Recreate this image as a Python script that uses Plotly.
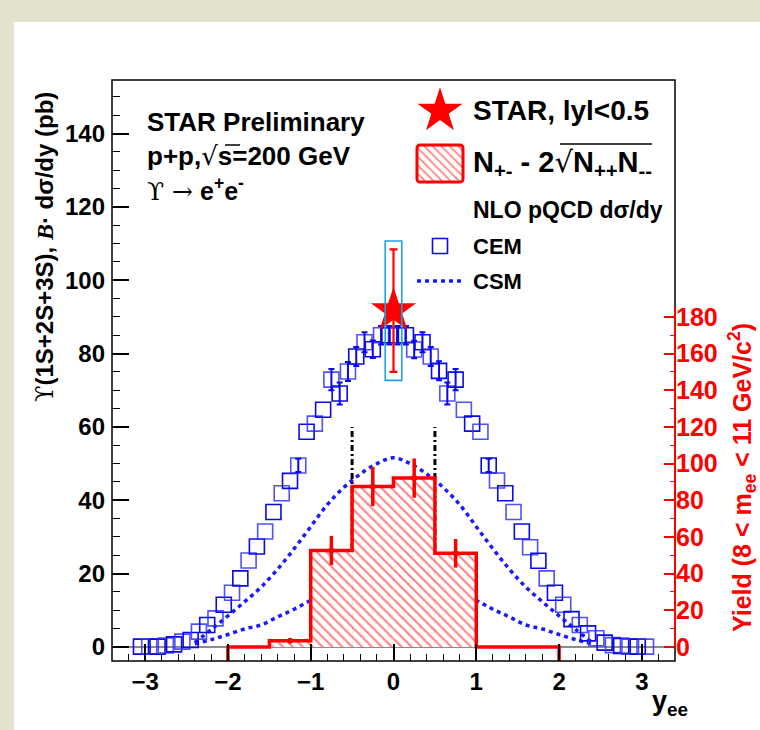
import plotly.graph_objects as go

# ---------------- data ----------------
cem_x = [-3.05, -2.95, -2.85, -2.75, -2.65, -2.55, -2.45, -2.35, -2.25, -2.15,
         -2.05, -1.95, -1.85, -1.75, -1.65, -1.55, -1.45, -1.35, -1.25, -1.15,
         -1.05, -0.95, -0.85, -0.75, -0.65, -0.55, -0.45, -0.35, -0.25, -0.15,
         -0.05, 0.05, 0.15, 0.25, 0.35, 0.45, 0.55, 0.65, 0.75, 0.85,
         0.95, 1.05, 1.15, 1.25, 1.35, 1.45, 1.55, 1.65, 1.75, 1.85,
         1.95, 2.05, 2.15, 2.25, 2.35, 2.45, 2.55, 2.65, 2.75, 2.85,
         2.95, 3.05]
cem_y = [0.1, 0.1, 0.1, 0.4, 0.7, 1.45, 1.9, 4.2, 6.0, 7.8,
         11.5, 14.8, 18.7, 23.6, 27.4, 31.5, 36.8, 41.9, 45.3, 49.5,
         58.7, 60.9, 64.7, 72.9, 69.1, 75.1, 79.2, 83.1, 81.2, 85.0,
         85.0, 85.0, 85.0, 81.1, 83.1, 79.2, 75.3, 69.1, 72.9, 64.7,
         60.9, 58.7, 49.5, 45.4, 41.9, 36.8, 31.5, 27.2, 23.5, 18.7,
         14.8, 11.5, 7.6, 6.0, 3.7, 2.4, 1.2, 0.5, 0.3, 0.1,
         0.1, 0.1]
cem_err = [0, 0, 0, 0, 0, 0, 0, 0, 0, 0,
           0, 0, 0, 0, 0, 0, 0, 0, 0, 1.8,
           0, 0, 0, 2.9, 3.0, 2.6, 2.6, 2.7, 2.4, 2.5,
           2.5, 2.5, 2.5, 2.4, 2.7, 2.6, 2.6, 3.0, 2.9, 0,
           0, 0, 1.8, 0, 0, 0, 0, 0, 0, 0,
           0, 0, 0, 0, 0, 0, 0, 0, 0, 0,
           0, 0]

csm_x = [-2.4, -2.2, -2.0, -1.8, -1.6, -1.4, -1.2, -1.0, -0.8, -0.6, -0.4, -0.2, 0.0,
         0.2, 0.4, 0.6, 0.8, 1.0, 1.2, 1.4, 1.6, 1.8, 2.0, 2.2, 2.4]
csm_hi = [1.2, 4.8, 8.5, 12.3, 16.3, 21.2, 26.8, 32.8, 38.8, 43.5, 47.2, 50.0, 51.6,
          50.0, 47.2, 43.5, 38.8, 32.8, 26.8, 21.2, 16.3, 12.3, 8.5, 4.8, 1.2]
csm_lo = [0.9, 2.0, 3.4, 4.9, 6.0, 8.2, 10.3, 12.7, 14.7, 16.4, 17.7, 18.2, 18.3,
          18.2, 17.7, 16.4, 14.7, 12.7, 10.3, 8.2, 6.0, 4.9, 3.4, 2.0, 0.9]

hist_edges = [-2.0, -1.5, -1.0, -0.5, 0.0, 0.5, 1.0, 1.5, 2.0]
hist_vals = [0.0, 3.4, 52.6, 87.5, 92.1, 51.1, 0.0, 0.0]
hist_err = [0.0, 1.0, 8.0, 10.7, 10.7, 7.8, 0.0, 0.0]

star_x = [0.0]
star_y = [91.7]
star_stat = [16.7]
star_sys = [19.0]

cut_x = [-0.5, 0.5]
cut_top = 60.0

x_range = [-3.4, 3.4]
y_range = [-3.82, 154.6]
y2_range = [2 * y_range[0], 2 * y_range[1]]

RED = "#ff0000"
BLUE = "#1a1aff"
FONT = "Liberation Sans"

# pixel helpers for decorations (plot area 112..675 x 80..661)
L, R, T, B = 112, 675, 80, 661
def PX(x):
    return (x - L) / (R - L)
def PY(y):
    return (B - y) / (B - T)

fig = go.Figure()

# histogram (hatched)
centers = [(hist_edges[i] + hist_edges[i + 1]) / 2 for i in range(len(hist_vals))]
widths = [hist_edges[i + 1] - hist_edges[i] for i in range(len(hist_vals))]
fig.add_trace(go.Bar(
    x=centers, y=hist_vals, width=widths, yaxis="y2",
    marker=dict(color="white", line=dict(width=0),
                pattern=dict(shape="\\", fgcolor=RED, bgcolor="white", size=7, solidity=0.28)),
    showlegend=False, hoverinfo="skip"))
step_x = [hist_edges[0]] + hist_edges[:-1] + [hist_edges[-1]]
step_y = [y2_range[0]] + hist_vals + [y2_range[0]]
fig.add_trace(go.Scatter(x=step_x, y=step_y, yaxis="y2", mode="lines",
                         line=dict(color=RED, width=3.5, shape="hv"),
                         showlegend=False, hoverinfo="skip"))
px_ = [c for c, v in zip(centers, hist_vals) if v > 0]
py_ = [v for v in hist_vals if v > 0]
pe_ = [e for e, v in zip(hist_err, hist_vals) if v > 0]
fig.add_trace(go.Scatter(x=px_, y=py_, yaxis="y2", mode="markers",
                         marker=dict(color=RED, size=6),
                         error_y=dict(type="data", array=pe_, color=RED, thickness=3.5, width=0),
                         showlegend=False))

# CSM curves
for arr in (csm_hi, csm_lo):
    fig.add_trace(go.Scatter(x=csm_x, y=arr, mode="lines",
                             line=dict(color=BLUE, width=3.5, dash="4px,4px", shape="spline"),
                             showlegend=False))

# CEM squares
line_cols = ["#0a0ae6" if i % 2 == 0 else "rgba(50,50,245,0.85)" for i in range(len(cem_x))]
fig.add_trace(go.Scatter(x=cem_x, y=cem_y, mode="markers",
                         marker=dict(symbol="square-open", size=15, color=line_cols,
                                     line=dict(width=1.6, color=line_cols)),
                         showlegend=False))
ex = [x for x, e in zip(cem_x, cem_err) if e > 0]
ey = [y for y, e in zip(cem_y, cem_err) if e > 0]
ee = [e for e in cem_err if e > 0]
fig.add_trace(go.Scatter(x=ex, y=ey, mode="markers",
                         marker=dict(size=1, color="rgba(0,0,0,0)"),
                         error_y=dict(type="data", array=ee, color="#0a0ae6", thickness=2, width=3),
                         showlegend=False))

# cut lines
for cx in cut_x:
    fig.add_trace(go.Scatter(x=[cx, cx], y=[0, cut_top], mode="lines",
                             line=dict(color="black", width=3, dash="6px,3px,2px,3px"),
                             showlegend=False))

# systematic box for the STAR point
fig.add_shape(type="rect", xref="x", yref="y",
              x0=star_x[0] - 0.1, x1=star_x[0] + 0.1,
              y0=star_y[0] - star_sys[0], y1=star_y[0] + star_sys[0],
              line=dict(color="#1ea0e6", width=1.6))
fig.add_trace(go.Scatter(x=star_x, y=star_y, mode="markers",
                         marker=dict(symbol="star", size=34, color=RED, line=dict(width=0)),
                         error_y=dict(type="data", array=star_stat, color=RED, thickness=2.2, width=4),
                         showlegend=False))

# ---------------- legend glyphs (pixel axes) ----------------
fig.add_trace(go.Scatter(x=[440], y=[111], xaxis="x3", yaxis="y3", mode="markers",
                         marker=dict(symbol="star", size=34, color=RED), showlegend=False))
fig.add_trace(go.Bar(x=[440], y=[37], base=[145], width=[46], xaxis="x3", yaxis="y3",
                     marker=dict(color="white", cornerradius=3, line=dict(color=RED, width=3),
                                 pattern=dict(shape="\\", fgcolor=RED, bgcolor="white", size=6, solidity=0.28)),
                     showlegend=False))
fig.add_trace(go.Scatter(x=[440], y=[246], xaxis="x3", yaxis="y3", mode="markers",
                         marker=dict(symbol="square-open", size=15, color="#0a0ae6", line=dict(width=1.6)),
                         showlegend=False))
fig.add_trace(go.Scatter(x=[417, 462], y=[281, 281], xaxis="x3", yaxis="y3", mode="lines",
                         line=dict(color=BLUE, width=3.5, dash="4px,4px"), showlegend=False))

# ---------------- annotations ----------------
ann = []
def txt(x, y, s, size, color="black", xanchor="left", angle=0):
    ann.append(dict(x=PX(x), y=PY(y), xref="paper", yref="paper", text=s, showarrow=False,
                    xanchor=xanchor, yanchor="middle", textangle=angle,
                    font=dict(family=FONT, size=size, color=color)))

txt(145, 122, "<b>STAR Preliminary</b>", 26)
txt(145, 156, "<b>p+p,</b><span style='font-family:DejaVu Sans;font-weight:normal'>√</span><b>s=200 GeV</b>", 26)
txt(145, 189, "<span style='font-family:DejaVu Serif'>ϒ →</span> <b>e<sup>+</sup>e<sup>-</sup></b>", 25)

txt(471, 111, "<b>STAR, lyl&lt;0.5</b>", 28)
txt(471, 163, "<b>N<sub>+-</sub> - 2</b><span style='font-family:DejaVu Sans;font-weight:normal'>√</span><b>N<sub>++</sub>N<sub>--</sub></b>", 29)
txt(471, 210, "<b>NLO pQCD dσ/dy</b>", 23)
txt(471, 246, "<b>CEM</b>", 22)
txt(471, 281, "<b>CSM</b>", 22)

txt(45, 247, "<span style='font-family:DejaVu Serif'>ϒ</span><b>(1S+2S+3S), </b>"
    "<span style='font-family:Liberation Serif'><b><i>B</i></b></span><b>· dσ/dy (pb)</b>",
    24, xanchor="center", angle=-90)
txt(742, 478, "<b>Yield (8 &lt; m<sub>ee</sub> &lt; 11 GeV/c<sup>2</sup>)</b>", 25,
    color=RED, xanchor="center", angle=-90)
txt(690, 703, "<b>y<sub>ee</sub></b>", 27, xanchor="right")

shapes = list(fig.layout.shapes)
# white page area on beige
shapes.append(dict(type="rect", xref="paper", yref="paper", layer="below",
                   x0=PX(14), x1=PX(760), y0=PY(730), y1=PY(22),
                   fillcolor="white", line=dict(width=0)))
# frame
shapes.append(dict(type="rect", xref="paper", yref="paper", x0=0, x1=1, y0=0, y1=1,
                   line=dict(color="black", width=1.5)))
# red right axis line
shapes.append(dict(type="line", xref="paper", yref="y2", x0=1, x1=1, y0=0, y1=186,
                   line=dict(color=RED, width=2)))
# overlines of the square roots
shapes.append(dict(type="line", xref="paper", yref="paper", x0=PX(225), x1=PX(240),
                   y0=PY(145), y1=PY(145), line=dict(color="black", width=1.5)))
shapes.append(dict(type="line", xref="paper", yref="paper", x0=PX(560), x1=PX(652),
                   y0=PY(144), y1=PY(144), line=dict(color="black", width=1.5)))

tickfont = dict(family=FONT, size=24, color="black", weight="bold")
fig.update_layout(
    width=760, height=730,
    margin=dict(l=L, r=760 - R, t=T, b=730 - B, pad=0),
    paper_bgcolor="#e3e0cd", plot_bgcolor="white",
    barmode="overlay", showlegend=False,
    annotations=ann, shapes=shapes,
    xaxis=dict(range=x_range, showgrid=False, zeroline=False, showline=False,
               ticks="inside", ticklen=17, tickwidth=1.5, tickcolor="black",
               tickvals=[-3, -2, -1, 0, 1, 2, 3], tickfont=tickfont, ticklabelstandoff=4,
               minor=dict(dtick=0.2, tick0=0, ticks="inside", ticklen=7, tickwidth=1.2, tickcolor="black")),
    yaxis=dict(range=y_range, showgrid=False, zeroline=True, zerolinecolor="#8c8c8c", zerolinewidth=2,
               showline=False, ticks="inside", ticklen=17, tickwidth=1.5, tickcolor="black",
               tickvals=[0, 20, 40, 60, 80, 100, 120, 140], tickfont=tickfont, ticklabelstandoff=6,
               minor=dict(dtick=5, tick0=0, ticks="inside", ticklen=8, tickwidth=1.2, tickcolor="black")),
    yaxis2=dict(range=y2_range, overlaying="y", side="right", showgrid=False, zeroline=False,
                showline=False, ticks="inside", ticklen=11, tickwidth=1.5, tickcolor=RED,
                tickvals=[0, 20, 40, 60, 80, 100, 120, 140, 160, 180],
                tickfont=dict(family=FONT, size=25, color=RED, weight="bold"),
                minor=dict(tickvals=[10, 30, 50, 70, 90, 110, 130, 150, 170], ticks="inside",
                           ticklen=5, tickwidth=1.2, tickcolor=RED)),
    xaxis3=dict(range=[L, R], overlaying="x", anchor="y3", visible=False),
    yaxis3=dict(range=[B, T], overlaying="y", anchor="x3", visible=False),
)

fig.write_html("out.html")
